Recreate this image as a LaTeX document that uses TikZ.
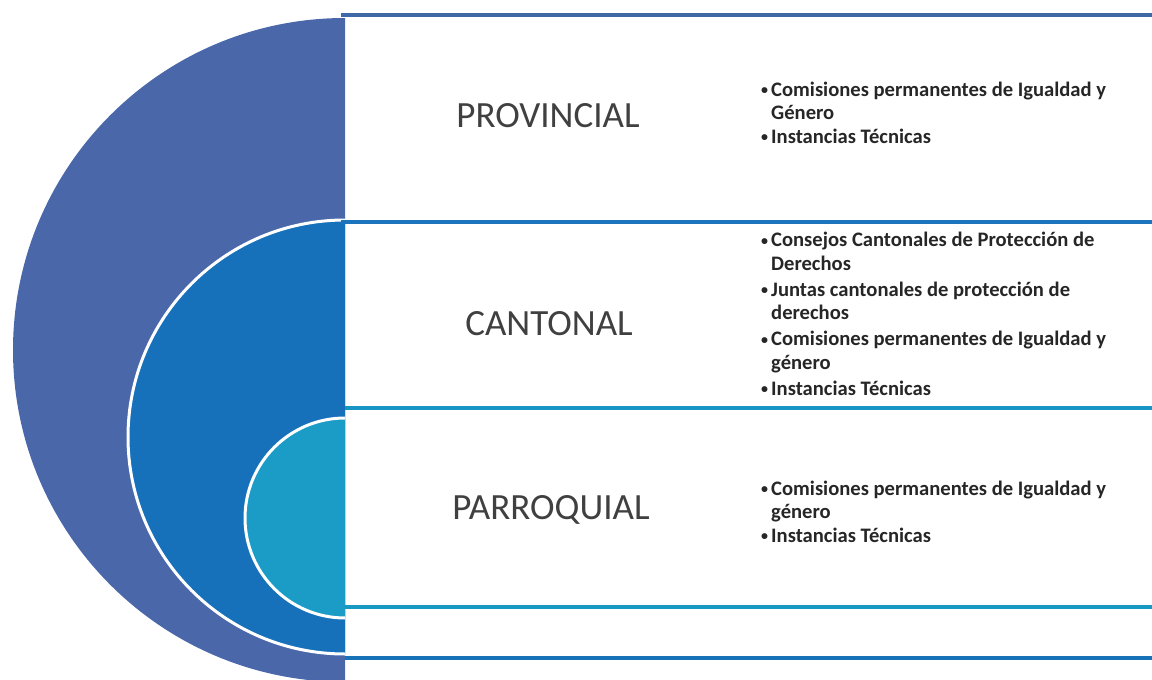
\documentclass[tikz,border=0pt]{standalone}
\usepackage{fontspec}
\setmainfont{Carlito}
\definecolor{ringout}{HTML}{4A67AA}
\definecolor{ringmid}{HTML}{1670BA}
\definecolor{ringin}{HTML}{1A9CC6}
\definecolor{lineprov}{HTML}{3F68A8}
\definecolor{linecant}{HTML}{1B74BC}
\definecolor{lineparr}{HTML}{1796C4}
\definecolor{linelow}{HTML}{1699C2}
\definecolor{linebot}{HTML}{1872B8}
\newcommand{\itemdot}{\makebox[10pt][l]{\raisebox{1.3pt}{\fontsize{14}{14}\selectfont\textbullet}}}
\newcommand{\itemgap}{\hspace*{10pt}}

\begin{document}
\begin{tikzpicture}
  [x=1pt,y=-1pt,
   level/.style={font=\fontsize{37}{44}\selectfont,text=black!75,inner sep=0pt,anchor=base},
   items/.style={font=\bfseries\fontsize{20.6}{23.5}\selectfont,text=black!85,align=left,inner sep=0pt,anchor=base west},
   sepline/.style={line width=4.5pt}]
  \useasboundingbox (0,0) rectangle (1152,680);
  % half rings
  \begin{scope}
    \clip (0,0) rectangle (345,680);
    \fill[ringout] (345,350) circle[radius=332];
    \filldraw[fill=ringmid,draw=white,line width=3pt] (345,437) circle[radius=217];
    \filldraw[fill=ringin,draw=white,line width=3pt] (345,518) circle[radius=100];
  \end{scope}
  % panel borders
  \draw[sepline,lineprov] (341,15) -- (1152,15);
  \draw[sepline,linecant] (341,222) -- (1152,222);
  \draw[sepline,lineparr] (345,408) -- (1152,408);
  \draw[sepline,linelow] (345,607) -- (1152,607);
  \draw[sepline,linebot] (345,658) -- (1152,658);

  \node[level] (prov) at (548,127) {PROVINCIAL};
  \node[level] (cant) at (549,335) {CANTONAL};
  \node[level] (parr) at (551,519) {PARROQUIAL};

  % lists, placed by the baseline of their last line
  \node[items] (provlist) at (761,143)
    {\itemdot Comisiones permanentes de Igualdad y\\ \itemgap Género\\ \itemdot Instancias Técnicas};
  \node[items] (cantlist) at (761,395)
    {\itemdot Consejos Cantonales de Protección de\\ \itemgap Derechos\\[2.5pt]
     \itemdot Juntas cantonales de protección de\\ \itemgap derechos\\[2.5pt]
     \itemdot Comisiones permanentes de Igualdad y\\ \itemgap género\\[2.5pt]
     \itemdot Instancias Técnicas};
  \node[items] (parrlist) at (761,542)
    {\itemdot Comisiones permanentes de Igualdad y\\ \itemgap género\\ \itemdot Instancias Técnicas};
\end{tikzpicture}
\end{document}
